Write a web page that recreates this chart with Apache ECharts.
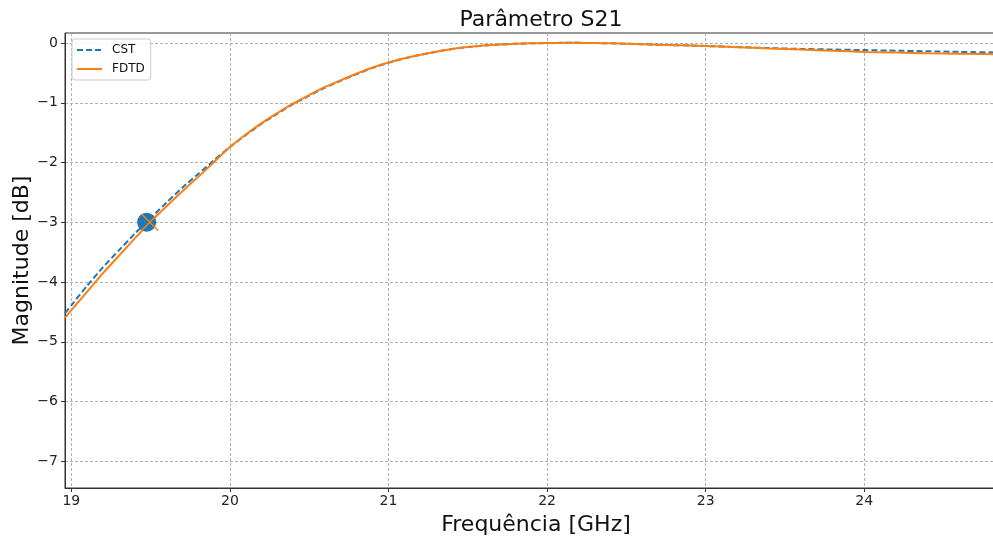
<!DOCTYPE html>
<html lang="pt">
<head>
    <meta charset="UTF-8">
    <title>Parâmetro S21</title>
    <script src="https://cdn.jsdelivr.net/npm/echarts@6/dist/echarts.min.js"></script>
</head>
<body style="margin:0;overflow:hidden;">
<!-- a moldura direita do gráfico original fica fora da imagem: div mais largo que a janela -->
<div id="main" style="width: 1010px;height:537px;"></div>
<script>
    // frequências (GHz) e magnitudes (dB)
    var freqFDTD = [18.96, 19.0, 19.1, 19.2, 19.3, 19.4, 19.5, 19.6, 19.7, 19.8, 19.9,
        20.0, 20.1, 20.2, 20.3, 20.4, 20.5, 20.6, 20.7, 20.8, 20.9,
        21.0, 21.1, 21.2, 21.3, 21.4, 21.5, 21.6, 21.7, 21.8, 21.9,
        22.0, 22.1, 22.2, 22.3, 22.4, 22.5, 22.6, 22.7, 22.8, 22.9,
        23.0, 23.2, 23.4, 23.6, 23.8, 24.0, 24.2, 24.4, 24.6, 24.9];
    var magFDTD = [-4.60, -4.47, -4.16, -3.85, -3.56, -3.27, -2.99, -2.73, -2.48, -2.24, -1.99,
        -1.74, -1.53, -1.34, -1.17, -1.01, -0.87, -0.735, -0.62, -0.51, -0.41,
        -0.325, -0.255, -0.195, -0.145, -0.10, -0.068, -0.043, -0.025, -0.013, -0.005,
        0.0, 0.003, 0.003, 0.0, -0.005, -0.012, -0.02, -0.028, -0.035, -0.042,
        -0.05, -0.07, -0.09, -0.11, -0.13, -0.148, -0.16, -0.17, -0.178, -0.19];

    var freqCST = [18.96, 19.0, 19.1, 19.2, 19.3, 19.4, 19.5, 19.6, 19.7, 19.8, 19.9,
        20.0, 20.1, 20.2, 20.3, 20.4, 20.5, 20.6, 20.7, 20.8, 20.9,
        21.0, 21.1, 21.2, 21.3, 21.4, 21.5, 21.6, 21.7, 21.8, 21.9,
        22.0, 22.1, 22.2, 22.3, 22.4, 22.5, 22.6, 22.7, 22.8, 22.9,
        23.0, 23.2, 23.4, 23.6, 23.8, 24.0, 24.2, 24.4, 24.6, 24.9];
    var magCST = [-4.52, -4.39, -4.06, -3.75, -3.47, -3.19, -2.93, -2.67, -2.42, -2.19, -1.96,
        -1.74, -1.54, -1.35, -1.18, -1.02, -0.88, -0.745, -0.63, -0.52, -0.415,
        -0.33, -0.258, -0.197, -0.146, -0.10, -0.068, -0.043, -0.025, -0.013, -0.005,
        0.0, 0.003, 0.003, 0.0, -0.005, -0.012, -0.02, -0.028, -0.035, -0.042,
        -0.05, -0.068, -0.085, -0.098, -0.108, -0.118, -0.128, -0.138, -0.148, -0.16];

    // pontos de -3 dB
    var ptCST = [19.475, -3];
    var ptFDTD = [19.495, -3];

    var xTicks = [19, 20, 21, 22, 23, 24];
    var yTicks = [-7, -6, -5, -4, -3, -2, -1, 0];

    function pairs(xs, ys) {
        var out = [];
        for (var i = 0; i < xs.length; i++) out.push([xs[i], ys[i]]);
        return out;
    }

    var font = 'DejaVu Sans';
    var myChart = echarts.init(document.getElementById('main'));

    var option = {
        animation: false,
        backgroundColor: '#fff',
        title: {
            text: 'Parâmetro S21',
            left: 536, top: 4, textAlign: 'center',
            textStyle: {fontFamily: font, fontSize: 22, fontWeight: 'normal', color: '#111'}
        },
        legend: {
            data: ['CST', 'FDTD'],
            orient: 'vertical',
            left: 72, top: 39,
            padding: [5, 6, 5, 4],
            itemWidth: 25, itemHeight: 13, itemGap: 7,
            backgroundColor: 'rgba(255,255,255,0.8)',
            borderColor: '#ccc', borderWidth: 1, borderRadius: 3,
            itemStyle: {color: 'transparent', borderWidth: 0},
            textStyle: {fontFamily: font, fontSize: 12, color: '#111', padding: [0, 0, 0, 5]}
        },
        grid: {
            left: 65, top: 33, right: 3, bottom: 49,
            outerBoundsMode: 'none',
            show: true, borderColor: '#333', borderWidth: 1
        },
        xAxis: {
            type: 'value', min: 18.96, max: 24.9,
            name: 'Frequência [GHz]', nameLocation: 'middle', nameGap: 26,
            nameTextStyle: {fontFamily: font, fontSize: 22, color: '#111'},
            axisLine: {onZero: false, lineStyle: {color: '#333'}},
            axisTick: {length: 4, lineStyle: {color: '#333'}, customValues: xTicks},
            axisLabel: {fontFamily: font, fontSize: 14, color: '#222', margin: 6, customValues: xTicks},
            splitLine: {show: true, lineStyle: {color: '#b0b0b0', type: [3, 2], width: 1}}
        },
        yAxis: {
            type: 'value', min: -7.447, max: 0.168,
            name: 'Magnitude [dB]', nameLocation: 'middle', nameGap: 32,
            nameMoveOverlap: false,
            nameTextStyle: {fontFamily: font, fontSize: 22, color: '#111'},
            axisLine: {show: true, onZero: false, lineStyle: {color: '#333'}},
            axisTick: {show: true, length: 4, lineStyle: {color: '#333'}, customValues: yTicks},
            axisLabel: {
                fontFamily: font, fontSize: 14, color: '#222', margin: 7, customValues: yTicks,
                formatter: function (v) { return String(v).replace('-', '\u2212'); }
            },
            splitLine: {show: true, lineStyle: {color: '#b0b0b0', type: [3, 2], width: 1}}
        },
        series: [
            {
                name: 'CST', type: 'line', data: pairs(freqCST, magCST),
                symbol: 'none', showSymbol: false, smooth: 0.2, z: 2,
                lineStyle: {color: '#1f77b4', width: 2, type: [6, 3]},
                itemStyle: {color: '#1f77b4'}
            },
            {
                name: 'FDTD', type: 'line', data: pairs(freqFDTD, magFDTD),
                symbol: 'none', showSymbol: false, smooth: 0.2, z: 3,
                lineStyle: {color: '#ff7f0e', width: 2},
                itemStyle: {color: '#ff7f0e'}
            },
            {
                name: 'CST -3dB', type: 'scatter', data: [ptCST], z: 4, silent: true,
                symbol: 'circle', symbolSize: 19,
                itemStyle: {color: '#1f77b4', opacity: 1}
            },
            {
                name: 'FDTD -3dB', type: 'scatter', data: [ptFDTD], z: 5, silent: true,
                symbol: 'path://M0,0L20,20M20,0L0,20', symbolSize: 17,
                itemStyle: {color: 'transparent', borderColor: '#ff7f0e', borderWidth: 1.5, opacity: 1}
            }
        ]
    };

    myChart.setOption(option);
</script>
</body>
</html>
